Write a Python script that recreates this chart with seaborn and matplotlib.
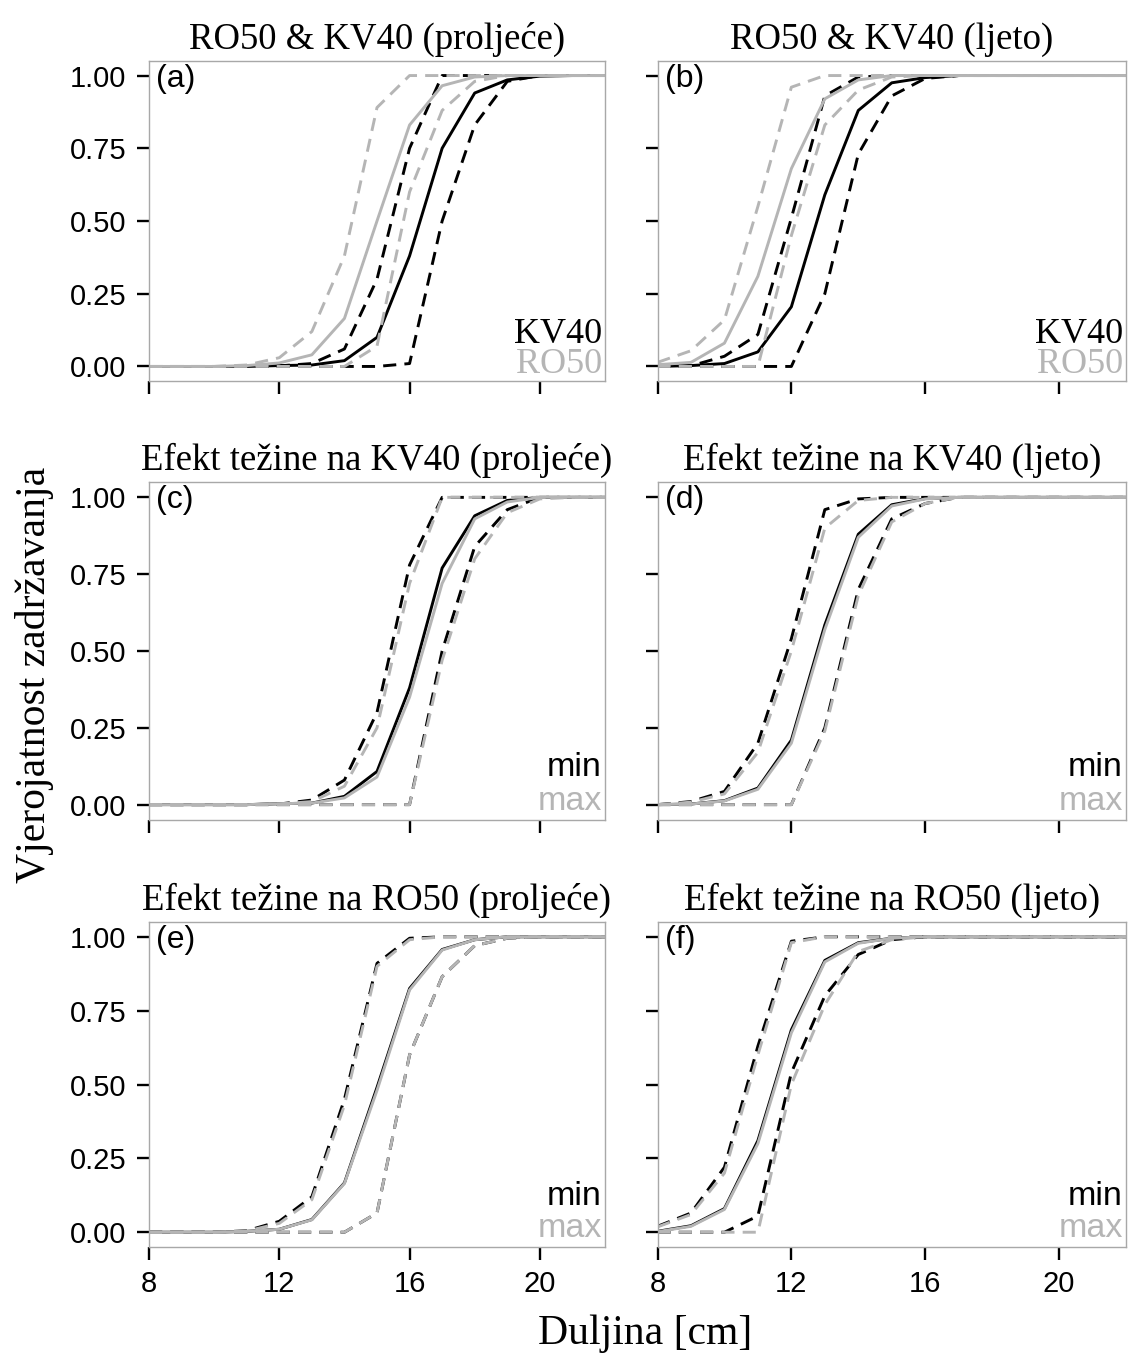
import numpy as np
import matplotlib
matplotlib.use("Agg")
import matplotlib.pyplot as plt
import seaborn as sns

# duljina ribe [cm]
duljina = list(range(8, 23))

# (a) RO50 & KV40 proljece
a_kv40 = [0, 0, 0, 0, 0.003, 0.005, 0.02, 0.10, 0.38, 0.75, 0.94, 0.985, 0.998, 1, 1]
a_kv40_gornja = [0, 0, 0, 0, 0.002, 0.01, 0.06, 0.30, 0.75, 1, 1, 1, 1, 1, 1]
a_kv40_donja = [0, 0, 0, 0, 0, 0, 0, 0, 0.01, 0.50, 0.83, 0.98, 1, 1, 1]
a_ro50 = [0, 0, 0, 0.003, 0.012, 0.04, 0.165, 0.50, 0.83, 0.965, 0.995, 1, 1, 1, 1]
a_ro50_gornja = [0, 0, 0, 0.005, 0.03, 0.12, 0.38, 0.89, 1, 1, 1, 1, 1, 1, 1]
a_ro50_donja = [0, 0, 0, 0, 0, 0, 0, 0.07, 0.60, 0.88, 0.98, 1, 1, 1, 1]

# (b) RO50 & KV40 ljeto
b_kv40 = [0, 0.003, 0.01, 0.05, 0.205, 0.59, 0.88, 0.975, 0.993, 1, 1, 1, 1, 1, 1]
b_kv40_gornja = [0, 0.002, 0.035, 0.11, 0.51, 0.93, 0.995, 1, 1, 1, 1, 1, 1, 1, 1]
b_kv40_donja = [0, 0, 0, 0, 0, 0.25, 0.73, 0.93, 0.99, 1, 1, 1, 1, 1, 1]
b_ro50 = [0.006, 0.014, 0.08, 0.31, 0.68, 0.92, 0.985, 1, 1, 1, 1, 1, 1, 1, 1]
b_ro50_gornja = [0.014, 0.054, 0.16, 0.55, 0.96, 1, 1, 1, 1, 1, 1, 1, 1, 1, 1]
b_ro50_donja = [0, 0, 0, 0, 0.45, 0.83, 0.95, 0.995, 1, 1, 1, 1, 1, 1, 1]

# (c) efekt tezine KV40 proljece
c_min = [0, 0, 0, 0, 0.003, 0.005, 0.027, 0.108, 0.38, 0.77, 0.94, 0.99, 1, 1, 1]
c_min_gornja = [0, 0, 0, 0, 0.002, 0.015, 0.08, 0.30, 0.78, 1, 1, 1, 1, 1, 1]
c_min_donja = [0, 0, 0, 0, 0, 0, 0, 0, 0.0, 0.50, 0.84, 0.96, 1, 1, 1]
c_max = [0, 0, 0, 0, 0.003, 0.005, 0.022, 0.09, 0.35, 0.72, 0.93, 0.985, 1, 1, 1]
c_max_gornja = [0, 0, 0, 0, 0.002, 0.01, 0.06, 0.25, 0.72, 1, 1, 1, 1, 1, 1]
c_max_donja = [0, 0, 0, 0, 0, 0, 0, 0, 0.0, 0.47, 0.80, 0.95, 0.995, 1, 1]

# (d) efekt tezine KV40 ljeto
d_min = [0, 0.002, 0.013, 0.054, 0.21, 0.585, 0.88, 0.976, 0.996, 1, 1, 1, 1, 1, 1]
d_min_gornja = [0, 0.01, 0.043, 0.20, 0.54, 0.96, 0.995, 1, 1, 1, 1, 1, 1, 1, 1]
d_min_donja = [0, 0, 0, 0, 0, 0.25, 0.70, 0.93, 0.98, 1, 1, 1, 1, 1, 1]
d_max = [0, 0.002, 0.012, 0.05, 0.20, 0.57, 0.87, 0.972, 0.995, 1, 1, 1, 1, 1, 1]
d_max_gornja = [0, 0.008, 0.035, 0.17, 0.50, 0.90, 0.99, 1, 1, 1, 1, 1, 1, 1, 1]
d_max_donja = [0, 0, 0, 0, 0, 0.24, 0.68, 0.92, 0.98, 1, 1, 1, 1, 1, 1]

# (e) efekt tezine RO50 proljece
e_min = [0, 0, 0, 0.003, 0.01, 0.043, 0.167, 0.49, 0.825, 0.957, 0.99, 1, 1, 1, 1]
e_min_gornja = [0, 0, 0, 0.005, 0.037, 0.12, 0.45, 0.91, 0.995, 1, 1, 1, 1, 1, 1]
e_min_donja = [0, 0, 0, 0, 0, 0, 0, 0.065, 0.60, 0.865, 0.97, 0.995, 1, 1, 1]
e_max = [0, 0, 0, 0.003, 0.01, 0.042, 0.165, 0.48, 0.82, 0.955, 0.99, 1, 1, 1, 1]
e_max_gornja = [0, 0, 0, 0.004, 0.03, 0.11, 0.43, 0.90, 0.99, 1, 1, 1, 1, 1, 1]
e_max_donja = [0, 0, 0, 0, 0, 0, 0, 0.065, 0.60, 0.865, 0.97, 0.995, 1, 1, 1]

# (f) efekt tezine RO50 ljeto
f_min = [0.003, 0.022, 0.08, 0.31, 0.685, 0.92, 0.98, 0.995, 1, 1, 1, 1, 1, 1, 1]
f_min_gornja = [0.02, 0.065, 0.22, 0.63, 0.985, 1, 1, 1, 1, 1, 1, 1, 1, 1, 1]
f_min_donja = [0, 0, 0, 0.055, 0.54, 0.80, 0.94, 0.99, 1, 1, 1, 1, 1, 1, 1]
f_max = [0.002, 0.02, 0.077, 0.30, 0.675, 0.915, 0.978, 0.995, 1, 1, 1, 1, 1, 1, 1]
f_max_gornja = [0.018, 0.06, 0.20, 0.60, 0.98, 1, 1, 1, 1, 1, 1, 1, 1, 1, 1]
f_max_donja = [0, 0, 0, 0, 0.50, 0.77, 0.95, 0.99, 1, 1, 1, 1, 1, 1, 1]

naslovi = ["RO50 & KV40 (proljeće)", "RO50 & KV40 (ljeto)",
           "Efekt težine na KV40 (proljeće)", "Efekt težine na KV40 (ljeto)",
           "Efekt težine na RO50 (proljeće)", "Efekt težine na RO50 (ljeto)"]
oznake = ["(a)", "(b)", "(c)", "(d)", "(e)", "(f)"]

CRNA = "black"
SIVA = "#b5b5b5"
SERIF = ["Liberation Serif", "DejaVu Serif"]

sns.set_theme(style="ticks")
plt.rcParams["font.family"] = ["Liberation Sans", "DejaVu Sans"]
plt.rcParams["lines.dashed_pattern"] = (4.5, 2.8)
plt.rcParams["text.color"] = "black"

fig = plt.figure(figsize=(11.28, 13.64), dpi=100)

# polozaji panela u pikselima (lijevo, desno) i (gore, dolje)
stupci = [(149, 605), (657.5, 1126)]
redovi = [(61, 381), (482, 820), (922, 1247)]
W, H = 1128, 1364

paneli = [
    [(a_kv40, CRNA, "-"), (a_kv40_gornja, CRNA, "--"), (a_kv40_donja, CRNA, "--"),
     (a_ro50, SIVA, "-"), (a_ro50_gornja, SIVA, "--"), (a_ro50_donja, SIVA, "--")],
    [(b_kv40, CRNA, "-"), (b_kv40_gornja, CRNA, "--"), (b_kv40_donja, CRNA, "--"),
     (b_ro50, SIVA, "-"), (b_ro50_gornja, SIVA, "--"), (b_ro50_donja, SIVA, "--")],
    [(c_min, CRNA, "-"), (c_min_gornja, CRNA, "--"), (c_min_donja, CRNA, "--"),
     (c_max, SIVA, "-"), (c_max_gornja, SIVA, "--"), (c_max_donja, SIVA, "--")],
    [(d_min, CRNA, "-"), (d_min_gornja, CRNA, "--"), (d_min_donja, CRNA, "--"),
     (d_max, SIVA, "-"), (d_max_gornja, SIVA, "--"), (d_max_donja, SIVA, "--")],
    [(e_min, CRNA, "-"), (e_min_gornja, CRNA, "--"), (e_min_donja, CRNA, "--"),
     (e_max, SIVA, "-"), (e_max_gornja, SIVA, "--"), (e_max_donja, SIVA, "--")],
    [(f_min, CRNA, "-"), (f_min_gornja, CRNA, "--"), (f_min_donja, CRNA, "--"),
     (f_max, SIVA, "-"), (f_max_gornja, SIVA, "--"), (f_max_donja, SIVA, "--")],
]

for i, krivulje in enumerate(paneli):
    red, stupac = divmod(i, 2)
    x0, x1 = stupci[stupac]
    y0, y1 = redovi[red]
    ax = fig.add_axes([x0 / W, 1 - y1 / H, (x1 - x0) / W, (y1 - y0) / H])

    for vrijednosti, boja, stil in krivulje:
        sns.lineplot(x=duljina, y=vrijednosti, ax=ax, color=boja,
                     linestyle=stil, linewidth=2.1)

    ax.set_xlim(8, 22)
    ax.set_ylim(-0.05, 1.05)
    ax.set_xticks([8, 12, 16, 20])
    ax.set_yticks([0, 0.25, 0.5, 0.75, 1.0])
    ax.yaxis.set_major_formatter("{x:.2f}")
    ax.tick_params(length=9, width=1.7, color="black", labelsize=21,
                   pad=7.5, labelcolor="black")
    if stupac == 1:
        ax.tick_params(labelleft=False)
    if red < 2:
        ax.tick_params(labelbottom=False)
    for s in ax.spines.values():
        s.set_color("#a8a8a8")
        s.set_linewidth(1.0)
    ax.set_xlabel("")
    ax.set_ylabel("")
    ax.set_title(naslovi[i], family=SERIF, fontsize=26.5, pad=9, color="black")

    ax.text(0.016, 0.99, oznake[i], transform=ax.transAxes, ha="left",
            va="top", fontsize=23, color="black")
    if red == 0:
        ax.text(0.993, 0.12, "KV40", transform=ax.transAxes, ha="right",
                va="baseline", family=SERIF, fontsize=26, color=CRNA)
        ax.text(0.993, 0.025, "RO50", transform=ax.transAxes, ha="right",
                va="baseline", family=SERIF, fontsize=26, color=SIVA)
    else:
        ax.text(0.993, 0.13, "min", transform=ax.transAxes, ha="right",
                va="baseline", fontsize=24.5, color=CRNA)
        ax.text(0.993, 0.03, "max", transform=ax.transAxes, ha="right",
                va="baseline", fontsize=24.5, color=SIVA)

fig.text(0.031, 0.505, "Vjerojatnost zadržavanja", rotation=90,
         ha="center", va="center", family=SERIF, fontsize=30, color="black")
fig.text(0.572, 0.022, "Duljina [cm]", ha="center", va="center",
         family=SERIF, fontsize=30, color="black")

fig.savefig("out.png", dpi=100, facecolor="white")
